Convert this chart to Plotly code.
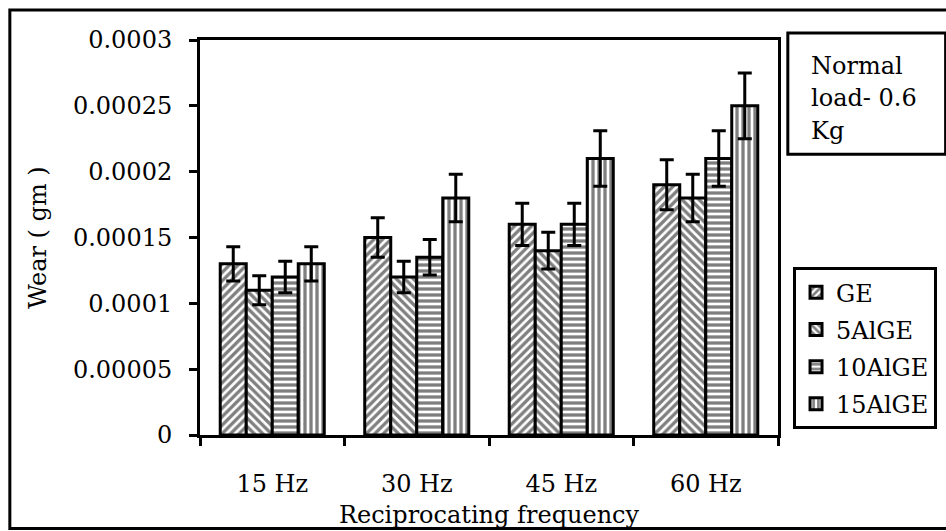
import plotly.graph_objects as go

categories = ["15 Hz", "30 Hz", "45 Hz", "60 Hz"]
series_names = ["GE", "5AlGE", "10AlGE", "15AlGE"]
ge = [0.00013, 0.00015, 0.00016, 0.00019]
al5 = [0.00011, 0.00012, 0.00014, 0.00018]
al10 = [0.00012, 0.000135, 0.00016, 0.00021]
al15 = [0.00013, 0.00018, 0.00021, 0.00025]
error_percent = 10
y_tickvals = [0, 0.00005, 0.0001, 0.00015, 0.0002, 0.00025, 0.0003]
y_ticktext = ["0", "0.00005", "0.0001", "0.00015", "0.0002", "0.00025", "0.0003"]
note_lines = ["Normal", "load- 0.6", "Kg"]

FONT = "DejaVu Serif"
FS = 24
patterns = ["/", "\\", "-", "|"]
all_series = [ge, al5, al10, al15]

fig = go.Figure()
for name, vals, pat in zip(series_names, all_series, patterns):
    fig.add_trace(go.Bar(
        x=categories, y=vals, name=name, legendgroup=name,
        marker=dict(color="white",
                    line=dict(color="black", width=3),
                    pattern=dict(shape=pat, fgcolor="black", bgcolor="white",
                                 size=6, solidity=0.55)),
        error_y=dict(type="percent", value=error_percent, color="black",
                     thickness=3, width=7),
    ))

fig.update_layout(
    width=946, height=531,
    margin=dict(l=200, r=168, t=40, b=96, autoexpand=False),
    paper_bgcolor="white", plot_bgcolor="white",
    font=dict(family=FONT, size=FS, color="black"),
    barmode="group", bargap=0.28, bargroupgap=0,
    showlegend=True,
    legend=dict(x=1.026, y=0.425, xanchor="left", yanchor="top",
                bordercolor="black", borderwidth=3, bgcolor="white",
                font=dict(family=FONT, size=FS, color="black"),
                tracegroupgap=3),
    xaxis=dict(showline=True, linecolor="black", linewidth=3, mirror=True,
               ticks="outside", ticklen=8, tickwidth=3, tickcolor="black",
               tickson="boundaries", showgrid=False, automargin=False,
               ticklabelstandoff=25,
               title=dict(text="Reciprocating frequency", standoff=10,
                          font=dict(family=FONT, size=FS))),
    yaxis=dict(showline=True, linecolor="black", linewidth=3, mirror=True,
               range=[0, 0.0003], tickvals=y_tickvals, ticktext=y_ticktext,
               ticks="outside", ticklen=8, tickwidth=3, tickcolor="black",
               showgrid=False, zeroline=False, ticklabelstandoff=12, automargin=False,
               title=dict(text="Wear ( gm )", standoff=20,
                          font=dict(family=FONT, size=FS))),
)

# outer chart frame
fig.add_shape(type="rect", xref="paper", yref="paper",
              x0=-0.329, x1=1.32, y0=-0.237, y1=1.076,
              line=dict(color="black", width=3), layer="below")
# note box
fig.add_shape(type="rect", xref="paper", yref="paper",
              x0=1.017, x1=1.29, y0=0.711, y1=1.018,
              line=dict(color="black", width=3), fillcolor="white")
for i, line in enumerate(note_lines):
    fig.add_annotation(text=line, xref="paper", yref="paper",
                       x=1.053, y=0.935 - i * 0.083, xanchor="left", yanchor="middle",
                       showarrow=False, font=dict(family=FONT, size=FS, color="black"))

fig.write_html("out.html")
